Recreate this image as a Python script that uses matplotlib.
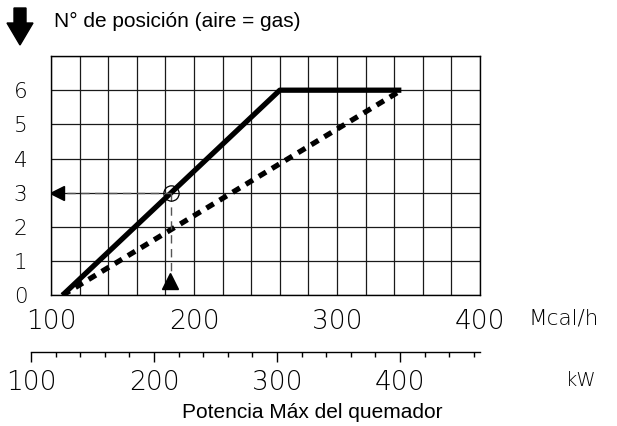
import matplotlib
matplotlib.use("Agg")
import matplotlib.pyplot as plt
from matplotlib.patches import Polygon
from matplotlib.ticker import MultipleLocator, FixedLocator

# Burner output (Mcal/h) vs. position number (air = gas)
mcal_ticks = [100, 200, 300, 400]
position_ticks = [0, 1, 2, 3, 4, 5, 6]

solid_x = [108, 260, 345]
solid_y = [0, 6, 6]
dashed_x = [108, 345]
dashed_y = [0, 6]

# worked example
example_power = 184
example_position = 3

# lower scale in kW
kw_major = [100, 200, 300, 400]
kw_minor = list(range(100, 480, 20))
mcal_per_kw = 0.86

digit_font = dict(family="DejaVu Sans", fontweight=200)
text_font = dict(family="Liberation Sans")

W, H = 617, 426
fig = plt.figure(figsize=(W / 100, H / 100), dpi=100)

ax_left, ax_right, ax_top, ax_bottom = 51, 480, 56, 295.3
ax = fig.add_axes([ax_left / W, 1 - ax_bottom / H,
                   (ax_right - ax_left) / W, (ax_bottom - ax_top) / H])
ax.set_xlim(100, 400)
ax.set_ylim(0, 7)

ax.xaxis.set_major_locator(FixedLocator(mcal_ticks))
ax.xaxis.set_minor_locator(MultipleLocator(20))
ax.yaxis.set_major_locator(FixedLocator(position_ticks))
ax.yaxis.set_minor_locator(MultipleLocator(1))
ax.grid(which="both", color="#1a1a1a", linewidth=0.9)
ax.set_axisbelow(True)
ax.tick_params(which="both", length=0)
ax.tick_params(axis="x", pad=10, labelsize=19)
ax.tick_params(axis="y", pad=17, labelsize=15.5)
for lab in ax.get_xticklabels() + ax.get_yticklabels():
    lab.set_fontfamily(digit_font["family"])
    lab.set_fontweight(digit_font["fontweight"])
for sp in ax.spines.values():
    sp.set_color("black")
    sp.set_linewidth(1.0)

ax.plot(solid_x, solid_y, color="black", linewidth=3.8, solid_capstyle="butt")
ax.plot(dashed_x, dashed_y, color="black", linewidth=3.8,
        dashes=(1.6, 1.3), dash_capstyle="butt")

# reading guide
ax.plot([101.5, example_power], [example_position, example_position],
        color="#555555", linewidth=1.0, dashes=(6, 4))
ax.plot([example_power, example_power], [example_position, 0.55],
        color="#555555", linewidth=1.0, dashes=(6, 4))
ax.plot(example_power, example_position, marker="o", markersize=11,
        markerfacecolor="none", markeredgecolor="black", markeredgewidth=0.9)
ax.plot(104.5, example_position, marker="<", markersize=10, color="black")
ax.plot(example_power - 0.5, 0.42, marker="^", markersize=11, color="black")

fig.text(528 / W, 1 - 319 / H, "Mcal/h", fontsize=15.5, ha="left", va="center",
         **digit_font)

# kW scale below
kw_lo, kw_hi = kw_major[0], 400 / mcal_per_kw
px_lo = ax_left + (kw_lo * mcal_per_kw - 100) / 300 * (ax_right - ax_left)
axk = fig.add_axes([px_lo / W, 1 - 351.7 / H, (ax_right - px_lo) / W, 0.001])
axk.set_xlim(kw_lo, kw_hi)
axk.set_yticks([])
for side in ("top", "left", "right"):
    axk.spines[side].set_visible(False)
axk.spines["bottom"].set_linewidth(1.0)
axk.xaxis.set_major_locator(FixedLocator(kw_major))
axk.xaxis.set_minor_locator(FixedLocator(kw_minor))
axk.tick_params(which="major", length=7, width=1.0, pad=6, labelsize=19)
axk.tick_params(which="minor", length=3.6, width=1.0)
for lab in axk.get_xticklabels():
    lab.set_fontfamily(digit_font["family"])
    lab.set_fontweight(digit_font["fontweight"])
fig.text(581 / W, 1 - 381 / H, "kW", fontsize=14, ha="center", va="center",
         **digit_font)

fig.text(312 / W, 1 - 413 / H, "Potencia Máx del quemador", fontsize=15,
         ha="center", va="center", **text_font)
fig.text(54 / W, 1 - 21 / H, "N° de posición (aire = gas)", fontsize=15,
         ha="left", va="center", **text_font)

# big down arrow at the top left
arrow_px = [(14, 8), (26, 8), (26, 23), (33, 23), (20, 45), (7, 23), (14, 23)]
fig.add_artist(Polygon([(x / 100, (H - y) / 100) for x, y in arrow_px],
                       closed=True, color="black",
                       transform=fig.dpi_scale_trans))

fig.savefig("out.png", dpi=100)
